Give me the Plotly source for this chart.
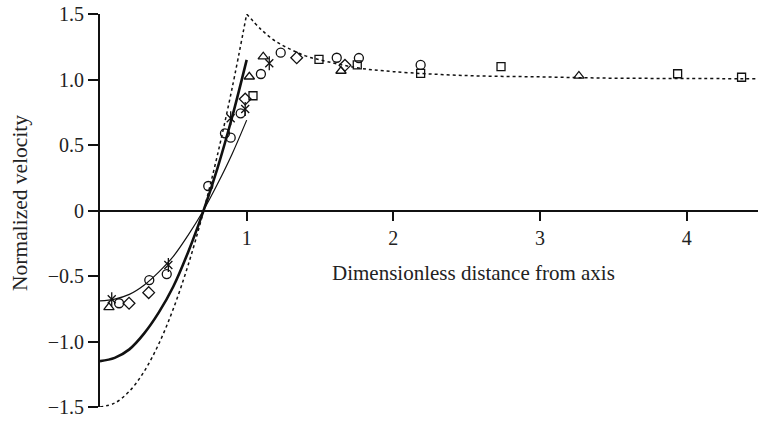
import plotly.graph_objects as go

# ---- data ----
# model curves (read at sample points)
inner_x = [0.0, 0.1, 0.2, 0.3, 0.4, 0.5, 0.6, 0.7, 0.8, 0.9, 1.0]
dotted_inner_y = [-1.50, -1.47, -1.38, -1.23, -1.02, -0.75, -0.42, -0.03, 0.42, 0.93, 1.50]
thick_y = [-1.15, -1.125, -1.06, -0.94, -0.78, -0.58, -0.32, -0.02, 0.32, 0.71, 1.15]
thin_y = [-0.69, -0.676, -0.64, -0.57, -0.47, -0.35, -0.19, -0.01, 0.20, 0.43, 0.69]

outer_x = [1.0, 1.1, 1.2, 1.3, 1.4, 1.5, 1.75, 2.0, 2.5, 3.0, 3.5, 4.0, 4.5]
dotted_outer_y = [1.50, 1.38, 1.29, 1.23, 1.18, 1.15, 1.09, 1.06, 1.03, 1.02, 1.01, 1.008, 1.005]

# experimental points
circle_x = [0.130, 0.336, 0.455, 0.738, 0.852, 0.891, 0.959, 1.097, 1.232, 1.614, 1.765, 2.186]
circle_y = [-0.708, -0.531, -0.485, 0.187, 0.589, 0.556, 0.742, 1.042, 1.205, 1.166, 1.164, 1.111]

diamond_x = [0.198, 0.332, 0.990, 1.341, 1.670]
diamond_y = [-0.708, -0.627, 0.851, 1.166, 1.108]

triangle_x = [0.061, 1.018, 1.113, 1.643, 3.265]
triangle_y = [-0.739, 1.021, 1.174, 1.065, 1.027]

square_x = [1.043, 1.493, 1.754, 2.186, 2.734, 3.938, 4.374]
square_y = [0.876, 1.154, 1.111, 1.047, 1.098, 1.044, 1.017]

star_x = [0.080, 0.466, 0.891, 0.990, 1.154]
star_y = [-0.678, -0.416, 0.704, 0.775, 1.124]

y_ticks = [1.5, 1.0, 0.5, 0, -0.5, -1.0, -1.5]
y_tick_text = ["1.5", "1.0", "0.5", "0", "\u22120.5", "\u22121.0", "\u22121.5"]
x_ticks = [1, 2, 3, 4]
x_tick_text = ["1", "2", "3", "4"]

FONT = "Liberation Serif"
INK = "#111"

fig = go.Figure()

line_dot = dict(color=INK, width=1.5, dash="dot")
fig.add_trace(go.Scatter(x=inner_x, y=dotted_inner_y, mode="lines", line=dict(line_dot, shape="spline")))
fig.add_trace(go.Scatter(x=outer_x, y=dotted_outer_y, mode="lines", line=dict(line_dot, shape="spline")))
fig.add_trace(go.Scatter(x=inner_x, y=thick_y, mode="lines", line=dict(color=INK, width=2.6, shape="spline")))
fig.add_trace(go.Scatter(x=inner_x, y=thin_y, mode="lines", line=dict(color=INK, width=1.2, shape="spline")))

def add_markers(xs, ys, symbol, size):
    fig.add_trace(go.Scatter(
        x=xs, y=ys, mode="markers",
        marker=dict(symbol=symbol, size=size, color=INK,
                    line=dict(color=INK, width=1.3)),
        cliponaxis=False))

add_markers(circle_x, circle_y, "circle-open", 9)
add_markers(diamond_x, diamond_y, "diamond-open", 9)
add_markers(triangle_x, triangle_y, "triangle-up-open", 9)
add_markers(square_x, square_y, "square-open", 8)
add_markers(star_x, star_y, "x-thin-open", 8)
add_markers(star_x, star_y, "line-ns-open", 10)

fig.update_layout(
    width=758, height=421,
    margin=dict(l=100, r=0, t=14, b=14),
    paper_bgcolor="white", plot_bgcolor="white",
    showlegend=False,
    hovermode=False,
    font=dict(family=FONT, size=20, color="#222"),
    xaxis=dict(range=[0, 4.486], anchor="free", position=0.5,
               showgrid=False, zeroline=False, showline=True,
               linecolor=INK, linewidth=2,
               ticks="outside", ticklen=9, tickwidth=2, tickcolor=INK,
               tickvals=x_ticks, ticktext=x_tick_text,
               tickfont=dict(family=FONT, size=20, color="#222")),
    yaxis=dict(range=[-1.5, 1.5], showgrid=False, zeroline=False,
               showline=True, linecolor=INK, linewidth=2,
               ticks="outside", ticklen=10, tickwidth=2, tickcolor=INK,
               tickvals=y_ticks, ticktext=y_tick_text,
               tickfont=dict(family=FONT, size=20, color="#222")),
    annotations=[
        dict(text="Dimensionless distance from axis", xref="paper", yref="paper",
             x=0.567, y=0.341, showarrow=False, xanchor="center", yanchor="middle",
             font=dict(family=FONT, size=21, color="#222")),
        dict(text="Normalized velocity", xref="paper", yref="paper",
             x=-0.1216, y=0.519, textangle=-90, showarrow=False,
             xanchor="center", yanchor="middle",
             font=dict(family=FONT, size=21.5, color="#222")),
    ],
)

fig.write_html("out.html",
               config={"displayModeBar": False, "staticPlot": True},
               post_script="document.body.style.margin='0';document.body.style.overflow='hidden';")
